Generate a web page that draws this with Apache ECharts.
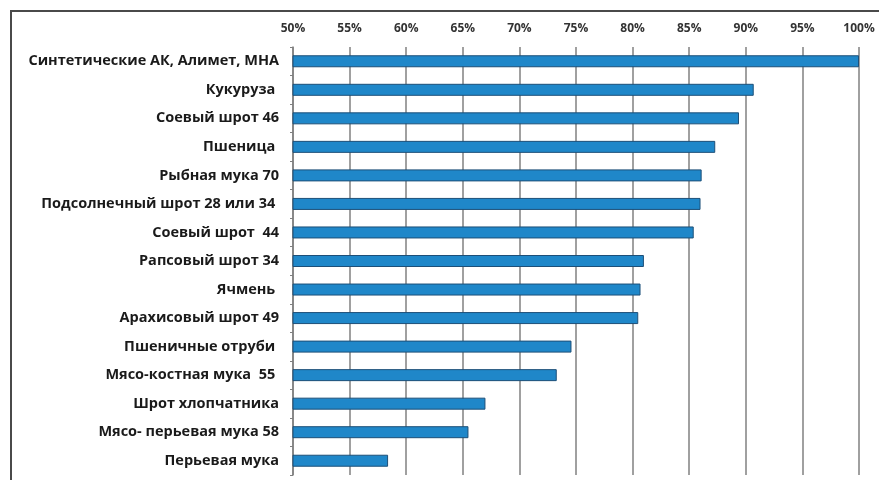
<!DOCTYPE html>
<html><head><meta charset="utf-8">
<script src="https://cdn.jsdelivr.net/npm/echarts@6/dist/echarts.min.js"></script>
<style>html,body{margin:0;padding:0;background:#fff}#c{width:879px;height:480px}</style>
</head><body><div id="c"></div>
<script>
var categories = [
  'Синтетические АК, Алимет, МНА',
  'Кукуруза ',
  'Соевый шрот 46',
  'Пшеница ',
  'Рыбная мука 70',
  'Подсолнечный шрот 28 или 34 ',
  'Соевый шрот  44',
  'Рапсовый шрот 34',
  'Ячмень ',
  'Арахисовый шрот 49',
  'Пшеничные отруби ',
  'Мясо-костная мука  55 ',
  'Шрот хлопчатника',
  'Мясо- перьевая мука 58',
  'Перьевая мука'
];
var values = [100, 90.7, 89.4, 87.3, 86.1, 86.0, 85.4, 81.0, 80.7, 80.5, 74.6, 73.3, 67.0, 65.5, 58.4];
var axisMin = 50, axisMax = 100, axisStep = 5;

var chart = echarts.init(document.getElementById('c'), null, {renderer: 'canvas'});
chart.setOption({
  animation: false,
  backgroundColor: '#fff',
  grid: {left: 293, right: 20, top: 47, bottom: 5, containLabel: false},
  graphic: [{
    type: 'rect', shape: {x: 11, y: 11, width: 880, height: 480},
    style: {fill: 'none', stroke: '#4a4a4a', lineWidth: 2}, silent: true
  }],
  xAxis: {
    type: 'value', position: 'top', min: axisMin, max: axisMax, interval: axisStep,
    axisLine: {show: false}, axisTick: {show: false},
    axisLabel: {formatter: '{value}%', color: '#333', fontFamily: 'Open Sans', fontWeight: 'bold', fontSize: 12, margin: 12},
    splitLine: {show: true, lineStyle: {color: '#808080', width: 1.5}}
  },
  yAxis: {
    type: 'category', data: categories, inverse: true,
    axisLine: {show: true, lineStyle: {color: '#808080', width: 1.5}},
    axisTick: {show: true, length: 3, lineStyle: {color: '#808080'}},
    axisLabel: {color: '#1a1a1a', fontFamily: 'Open Sans', fontWeight: 'bold', fontSize: 14.5, margin: 14}
  },
  series: [{
    type: 'bar', data: values, barWidth: 12,
    itemStyle: {color: '#1f87c9', borderColor: '#1d4f78', borderWidth: 1}
  }]
});
</script></body></html>
